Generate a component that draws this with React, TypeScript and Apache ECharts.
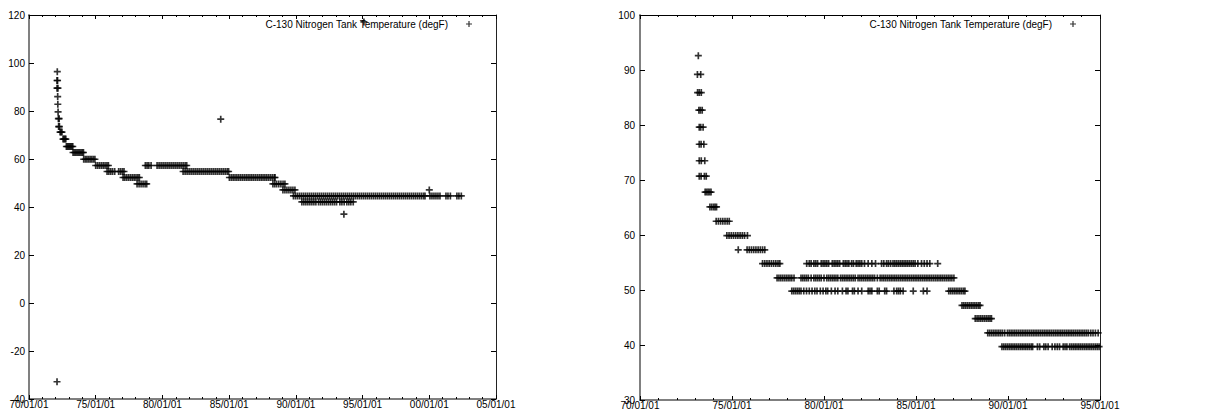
import { useEffect, useRef } from 'react';
import * as echarts from 'echarts';

const SERIES_NAME = 'C-130 Nitrogen Tank Temperature (degF)';
const FONT = '"Liberation Sans", Arial, Helvetica, sans-serif';

// ---------- tick labels ----------
const leftXTickLabels = ['70/01/01', '75/01/01', '80/01/01', '85/01/01', '90/01/01', '95/01/01', '00/01/01', '05/01/01'];
const leftXTickYears = [70, 75, 80, 85, 90, 95, 100, 105];
const leftYTicks = [-40, -20, 0, 20, 40, 60, 80, 100, 120];

const rightXTickLabels = ['70/01/01', '75/01/01', '80/01/01', '85/01/01', '90/01/01', '95/01/01'];
const rightXTickYears = [70, 75, 80, 85, 90, 95];
const rightYTicks = [30, 40, 50, 60, 70, 80, 90, 100];

// ---------- left chart: observation dates (years since 1900) per temperature level ----------
const leftLevels = [117.1, 96.4, 92.7, 89.5, 86.0, 82.8, 79.6, 76.8, 76.6, 73.5, 71.2, 68.3, 65.2, 62.7, 59.9, 57.3, 54.8, 52.3, 49.6, 47.1, 44.6, 42.1, 37.0, -32.8];
const l1171 = [95.1];
const l964 = [72.12];
const l927 = [72.1, 72.14];
const l895 = [72.1, 72.17];
const l860 = [72.15];
const l828 = [72.16];
const l796 = [72.18];
const l768 = [72.2, 72.26];
const l766 = [84.37];
const l735 = [72.22, 72.28];
const l712 = [72.33, 72.4, 72.47];
const l683 = [72.55, 72.62, 72.69, 72.76];
const l652 = [72.8, 72.88, 72.96, 73.04, 73.12, 73.2, 73.28];
const l627 = [73.3, 73.4, 73.5, 73.6, 73.7, 73.8, 73.9, 74.0, 74.08];
const l599 = [74.1, 74.22, 74.34, 74.46, 74.58, 74.7, 74.82, 74.94];
const l573 = [75.0, 75.14, 75.28, 75.42, 75.56, 75.7, 75.84, 75.95, 78.72, 78.85, 78.98, 79.15, 79.6, 79.75, 79.9, 80.05, 80.2, 80.35, 80.5, 80.65, 80.8, 80.95, 81.1, 81.25, 81.4, 81.55, 81.7, 81.82];
const l548 = [75.85, 75.98, 76.12, 76.26, 76.42, 76.72, 76.86, 77.0, 77.12, 81.55, 81.7, 81.85, 82.0, 82.15, 82.3, 82.45, 82.6, 82.75, 82.9, 83.05, 83.2, 83.35, 83.5, 83.65, 83.8, 83.95, 84.1, 84.25, 84.4, 84.55, 84.7, 84.85, 84.96];
const l523 = [77.05, 77.18, 77.32, 77.46, 77.6, 77.74, 77.88, 78.02, 78.16, 78.27, 85.02, 85.16, 85.3, 85.44, 85.58, 85.72, 85.86, 86.0, 86.14, 86.28, 86.42, 86.56, 86.7, 86.84, 86.98, 87.12, 87.26, 87.4, 87.54, 87.68, 87.82, 87.96, 88.1, 88.24, 88.38, 88.44];
const l496 = [78.1, 78.25, 78.4, 78.55, 78.7, 78.82, 88.28, 88.42, 88.56, 88.72, 88.88, 89.04, 89.18];
const l471 = [89.03, 89.18, 89.33, 89.48, 89.63, 89.78, 89.93, 100.0];
const l446 = [89.82, 89.97, 90.12, 90.27, 90.42, 90.57, 90.72, 90.87, 91.02, 91.17, 91.32, 91.47, 91.62, 91.77, 91.92, 92.07, 92.22, 92.37, 92.52, 92.67, 92.82, 92.97, 93.12, 93.27, 93.42, 93.57, 93.72, 93.87, 94.02, 94.17, 94.32, 94.47, 94.62, 94.77, 94.92, 95.07, 95.22, 95.37, 95.52, 95.67, 95.82, 95.97, 96.12, 96.27, 96.42, 96.57, 96.72, 96.87, 97.02, 97.17, 97.32, 97.47, 97.62, 97.77, 97.92, 98.07, 98.22, 98.37, 98.52, 98.67, 98.82, 98.97, 99.12, 99.27, 99.42, 99.57, 99.68, 100.05, 100.2, 100.35, 100.5, 100.65, 100.8, 101.25, 101.4, 101.58, 102.07, 102.22, 102.4];
const l421 = [90.45, 90.6, 90.75, 90.9, 91.05, 91.2, 91.35, 91.5, 91.7, 91.85, 92.0, 92.15, 92.3, 92.45, 92.6, 92.75, 92.9, 93.05, 93.3, 93.45, 93.62, 93.82, 93.97, 94.12, 94.3];
const l370 = [93.6];
const lm328 = [72.1];
const leftDates = [l1171, l964, l927, l895, l860, l828, l796, l768, l766, l735, l712, l683, l652, l627, l599, l573, l548, l523, l496, l471, l446, l421, l370, lm328];

// ---------- right chart ----------
const rightLevels = [92.6, 89.2, 85.9, 82.7, 79.6, 76.5, 73.5, 70.7, 67.8, 65.1, 62.5, 59.9, 57.3, 54.8, 52.2, 49.8, 47.2, 44.8, 42.2, 39.7];
const r926 = [73.17];
const r892 = [73.12, 73.3];
const r859 = [73.13, 73.22, 73.33];
const r827 = [73.2, 73.28, 73.38];
const r796 = [73.22, 73.3, 73.43];
const r765 = [73.22, 73.32, 73.47];
const r735 = [73.22, 73.33, 73.52];
const r707 = [73.22, 73.32, 73.5, 73.6];
const r678 = [73.54, 73.62, 73.7, 73.78, 73.86];
const r651 = [73.8, 73.9, 74.0, 74.08, 74.16];
const r625 = [74.14, 74.26, 74.38, 74.5, 74.62, 74.74, 74.85];
const r599 = [74.72, 74.84, 74.96, 75.08, 75.2, 75.32, 75.44, 75.56, 75.68, 75.84];
const r573 = [75.34, 75.82, 75.94, 76.06, 76.18, 76.3, 76.42, 76.54, 76.66, 76.78];
const r548 = [76.66, 76.78, 76.9, 77.02, 77.14, 77.26, 77.38, 77.5, 77.6, 79.06, 79.2, 79.3, 79.45, 79.55, 79.65, 79.85, 79.95, 80.05, 80.15, 80.25, 80.45, 80.55, 80.65, 80.75, 80.85, 81.05, 81.15, 81.25, 81.35, 81.5, 81.6, 81.75, 81.85, 81.95, 82.05, 82.2, 82.4, 82.6, 82.8, 83.13, 83.25, 83.4, 83.5, 83.62, 83.75, 83.85, 83.95, 84.05, 84.15, 84.25, 84.35, 84.45, 84.55, 84.65, 84.75, 84.85, 84.95, 85.1, 85.3, 85.45, 85.6, 85.75, 86.18];
const r522 = [77.45, 77.55, 77.65, 77.75, 77.85, 77.95, 78.05, 78.15, 78.25, 78.37, 78.75, 78.85, 78.95, 79.05, 79.15, 79.3, 79.45, 79.55, 79.65, 79.75, 79.85, 80.0, 80.15, 80.25, 80.35, 80.45, 80.55, 80.65, 80.75, 80.9, 81.0, 81.1, 81.2, 81.3, 81.4, 81.5, 81.6, 81.7, 81.85, 81.95, 82.05, 82.15, 82.25, 82.35, 82.45, 82.55, 82.65, 82.75, 82.9, 83.05, 83.15, 83.25, 83.35, 83.45, 83.55, 83.65, 83.75, 83.85, 83.95, 84.05, 84.15, 84.25, 84.35, 84.45, 84.55, 84.65, 84.75, 84.85, 84.95, 85.05, 85.15, 85.25, 85.35, 85.45, 85.55, 85.65, 85.75, 85.85, 85.95, 86.05, 86.15, 86.25, 86.35, 86.45, 86.55, 86.65, 86.75, 86.85, 86.95, 87.06];
const r497 = [78.25, 78.35, 78.45, 78.55, 78.65, 78.75, 78.9, 79.05, 79.2, 79.35, 79.5, 79.62, 79.8, 79.95, 80.1, 80.2, 80.4, 80.6, 80.75, 81.0, 81.2, 81.3, 81.55, 81.65, 81.85, 82.05, 82.4, 82.5, 82.6, 82.9, 83.0, 83.3, 83.4, 83.8, 83.95, 84.05, 84.15, 84.3, 84.85, 85.4, 85.6, 86.78, 86.88, 86.98, 87.08, 87.18, 87.28, 87.38, 87.48, 87.58, 87.66];
const r472 = [87.5, 87.6, 87.7, 87.8, 87.9, 88.0, 88.1, 88.2, 88.3, 88.4, 88.48];
const r448 = [88.22, 88.32, 88.42, 88.52, 88.62, 88.72, 88.82, 88.92, 89.02, 89.1];
const r422 = [88.9, 89.0, 89.1, 89.2, 89.3, 89.4, 89.5, 89.6, 89.7, 89.82, 89.97, 90.07, 90.17, 90.27, 90.37, 90.47, 90.57, 90.67, 90.77, 90.87, 90.97, 91.07, 91.17, 91.27, 91.37, 91.47, 91.57, 91.67, 91.77, 91.87, 91.97, 92.07, 92.17, 92.27, 92.37, 92.47, 92.57, 92.67, 92.77, 92.87, 92.97, 93.07, 93.17, 93.27, 93.37, 93.47, 93.57, 93.67, 93.77, 93.87, 93.97, 94.07, 94.17, 94.27, 94.37, 94.5, 94.62, 94.75, 94.9];
const r397 = [89.67, 89.77, 89.87, 89.97, 90.07, 90.17, 90.27, 90.37, 90.47, 90.57, 90.67, 90.77, 90.87, 90.97, 91.07, 91.17, 91.27, 91.34, 91.6, 91.72, 91.95, 92.05, 92.18, 92.4, 92.55, 92.68, 92.8, 93.0, 93.1, 93.2, 93.35, 93.45, 93.55, 93.65, 93.75, 93.85, 93.95, 94.05, 94.15, 94.25, 94.35, 94.45, 94.55, 94.65, 94.75, 94.85, 94.95];
const rightDates = [r926, r892, r859, r827, r796, r765, r735, r707, r678, r651, r625, r599, r573, r548, r522, r497, r472, r448, r422, r397];

const PLUS = 'path://M3.8,0H6.2V3.8H10V6.2H6.2V10H3.8V6.2H0V3.8H3.8Z';
const PLUS_THIN = 'path://M4,0H6V4H10V6H6V10H4V6H0V4H4Z';

function buildPoints(levels: number[], dates: number[][]) {
  const pts: number[][] = [];
  levels.forEach((lv, i) => dates[i].forEach((d) => pts.push([d, lv])));
  return pts;
}

function makeAxes(gridIndex: number, xYears: number[], xLabels: string[], yTicks: number[], yMargin: number) {
  const labelStyle = { fontSize: 10, color: '#000', fontFamily: FONT };
  const xFmt = (v: number) => {
    const i = xYears.indexOf(Math.round(v));
    return i >= 0 ? xLabels[i] : '';
  };
  const xBase = {
    type: 'value',
    gridIndex,
    min: xYears[0],
    max: xYears[xYears.length - 1],
    interval: xYears[1] - xYears[0],
    splitLine: { show: false },
    axisTick: { show: true, inside: true, length: 4, lineStyle: { color: '#000', width: 1 } },
    minorTick: { show: true, splitNumber: 5, length: 2, lineStyle: { color: '#000', width: 1 } },
  };
  const yBase = {
    type: 'value',
    gridIndex,
    min: yTicks[0],
    max: yTicks[yTicks.length - 1],
    interval: yTicks[1] - yTicks[0],
    splitLine: { show: false },
    axisTick: { show: true, inside: true, length: 5, lineStyle: { color: '#000', width: 1 } },
  };
  const xAxes = [
    {
      ...xBase,
      position: 'bottom',
      axisLine: { show: true, onZero: false, lineStyle: { color: '#555', width: 1.5 } },
      axisLabel: { ...labelStyle, formatter: xFmt, margin: 0 },
    },
    {
      ...xBase,
      position: 'top',
      axisLine: { show: true, onZero: false, lineStyle: { color: '#000', width: 1 } },
      axisLabel: { show: false },
    },
  ];
  const yAxes = [
    {
      ...yBase,
      position: 'left',
      axisLine: { show: true, onZero: false, lineStyle: { color: '#808080', width: 2 } },
      axisLabel: { ...labelStyle, margin: yMargin },
    },
    {
      ...yBase,
      position: 'right',
      axisLine: { show: true, onZero: false, lineStyle: { color: '#222', width: 1 } },
      axisLabel: { show: false },
    },
  ];
  return { xAxes, yAxes };
}

export default function App() {
  const ref = useRef<HTMLDivElement>(null);

  useEffect(() => {
    if (!ref.current) return;
    const chart = echarts.init(ref.current, undefined, { renderer: 'svg' });
    const left = makeAxes(0, leftXTickYears, leftXTickLabels, leftYTicks, 4);
    const right = makeAxes(1, rightXTickYears, rightXTickLabels, rightYTicks, 5);

    const legendBase = {
      orient: 'horizontal',
      align: 'right',
      icon: PLUS_THIN,
      itemWidth: 6,
      itemHeight: 6,
      padding: 0,
      top: 19,
      selectedMode: false,
      data: [SERIES_NAME],
      textStyle: { fontSize: 10, color: '#000', fontFamily: FONT, padding: [0, 13, 0, 0] },
    };

    const scatterBase = {
      type: 'scatter',
      name: SERIES_NAME,
      symbol: PLUS,
      symbolSize: 7,
      itemStyle: { color: '#000' },
      clip: true,
      silent: true,
    };

    chart.setOption({
      animation: false,
      backgroundColor: '#fff',
      grid: [
        { left: 29, top: 15, width: 467, height: 384, containLabel: false },
        { left: 640, top: 15, width: 460, height: 385, containLabel: false },
      ],
      legend: [
        { ...legendBase, right: 1210 - 472 },
        { ...legendBase, right: 1210 - 1076 },
      ],
      xAxis: [...left.xAxes, ...right.xAxes],
      yAxis: [...left.yAxes, ...right.yAxes],
      series: [
        { ...scatterBase, xAxisIndex: 0, yAxisIndex: 0, data: buildPoints(leftLevels, leftDates) },
        { ...scatterBase, xAxisIndex: 2, yAxisIndex: 2, data: buildPoints(rightLevels, rightDates) },
      ],
    });
    return () => chart.dispose();
  }, []);

  return (
    <div
      ref={ref}
      style={{ position: 'fixed', left: 0, top: 0, width: 1210, height: 419, background: '#fff' }}
    />
  );
}
